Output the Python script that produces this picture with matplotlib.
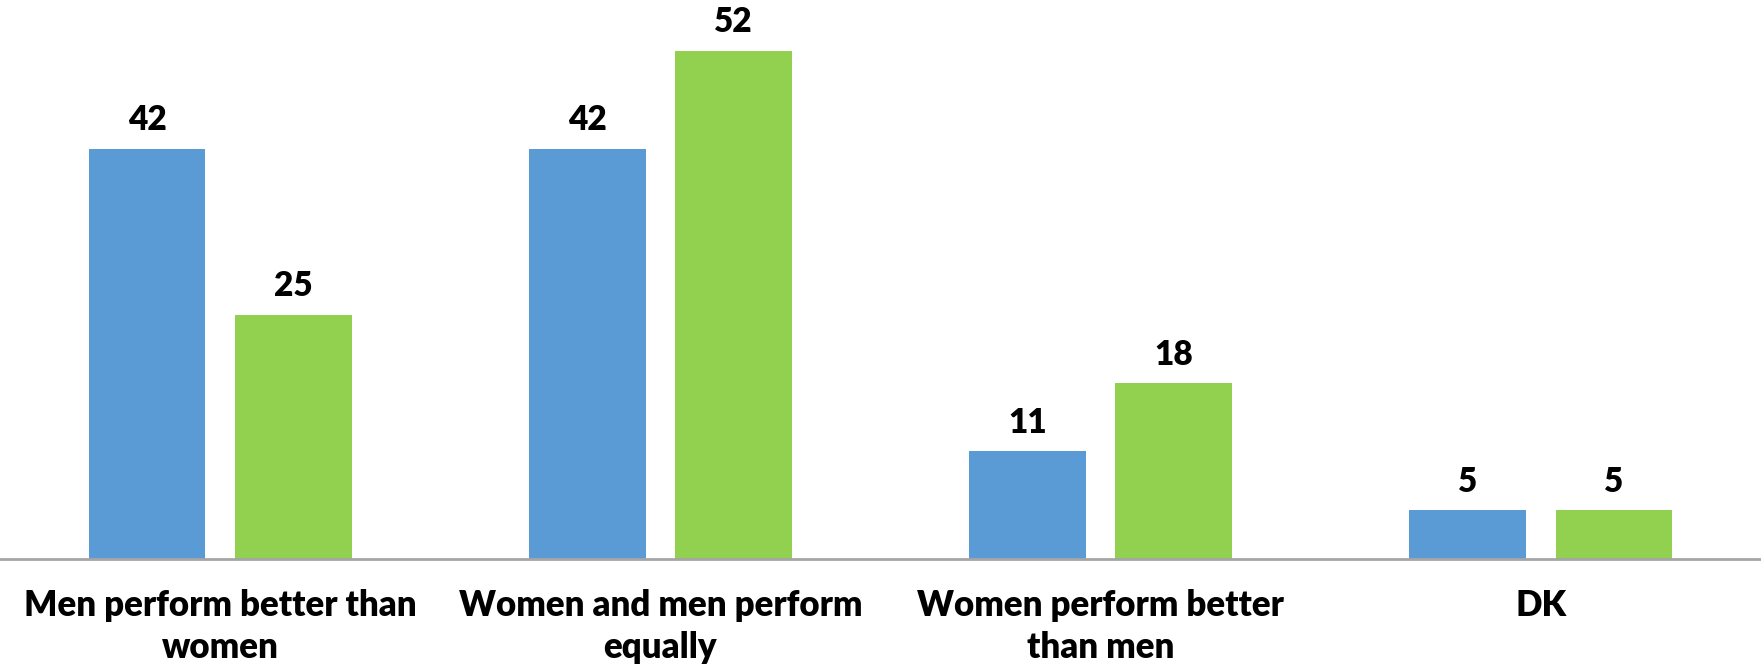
import numpy as np
import matplotlib.pyplot as plt

plt.rcParams['font.family'] = ['Lato', 'DejaVu Sans']

categories = ["Men perform better than\nwomen",
              "Women and men perform\nequally",
              "Women perform better\nthan men",
              "DK"]
series_a = [42, 42, 11, 5]
series_b = [25, 52, 18, 5]

blue = "#5B9BD5"
green = "#92D050"

fig = plt.figure(figsize=(17.61, 6.71), dpi=100)
ax = fig.add_axes([0, 0.167, 1, 0.833])

x = np.arange(len(categories))
w = 0.265
off = 0.166
bars_a = ax.bar(x - off, series_a, width=w, color=blue)
bars_b = ax.bar(x + off, series_b, width=w, color=green)

for bars in (bars_a, bars_b):
    ax.bar_label(bars, padding=9, fontsize=24, fontweight='heavy')

ax.set_xlim(-0.5, len(categories) - 0.5)
ax.set_ylim(0, 57.2)
ax.set_yticks([])
ax.set_xticks(x)
ax.set_xticklabels(categories, fontsize=25, fontweight='heavy', linespacing=1.3)
ax.tick_params(axis='x', length=0, pad=22)

for s in ('top', 'right', 'left'):
    ax.spines[s].set_visible(False)
ax.spines['bottom'].set_color('#A6A6A6')
ax.spines['bottom'].set_linewidth(2)

fig.savefig("out.png", dpi=100)
